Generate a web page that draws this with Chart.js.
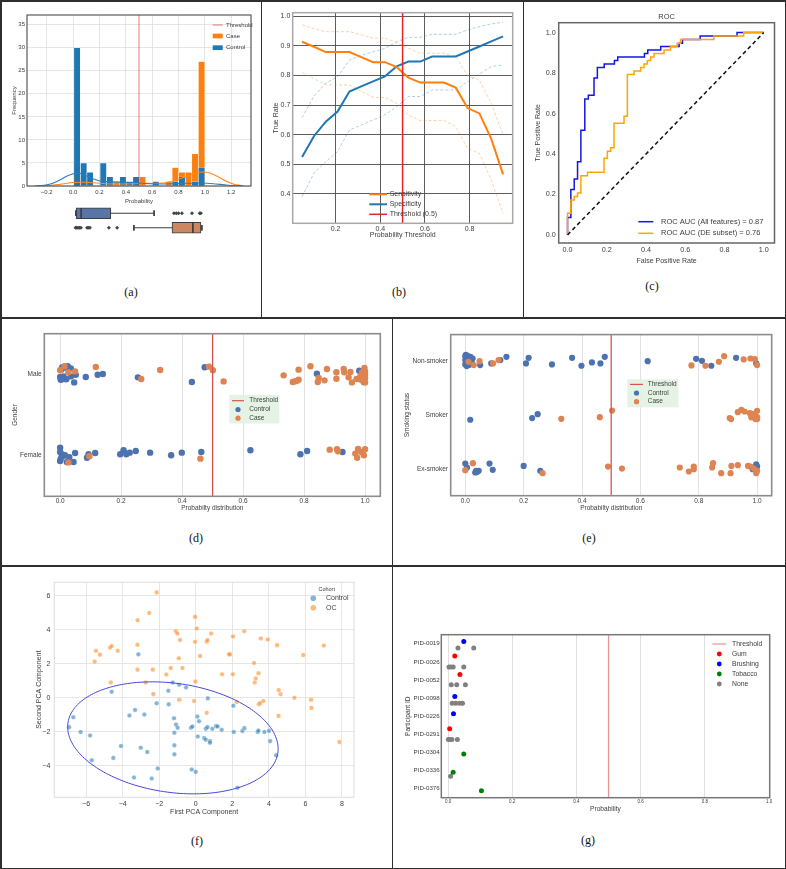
<!DOCTYPE html>
<html>
<head>
<meta charset="utf-8">
<script src="https://cdn.jsdelivr.net/npm/chart.js@4.4.1/dist/chart.umd.min.js"></script>
<style>
  body { margin: 0; background: #fff; }
  #fig { position: relative; width: 786px; height: 869px; background: #fff; overflow: hidden; }
  #fig canvas { position: absolute; }
  .ln { position: absolute; background: #2e2e2e; }
  .lab { position: absolute; font-family: 'Liberation Serif', 'Times New Roman', serif; font-size: 12px; color: #111;
         transform: translate(-50%, -50%); white-space: nowrap; }
</style>
</head>
<body>
<div id="fig">
  <canvas id="cHist"></canvas>
  <canvas id="cBox"></canvas>
  <canvas id="cRate"></canvas>
  <canvas id="cRoc"></canvas>
  <canvas id="cGender"></canvas>
  <canvas id="cSmoke"></canvas>
  <canvas id="cPca"></canvas>
  <canvas id="cPid"></canvas>

  <!-- panel frame lines -->
  <div class="ln" style="left:0;top:0;width:786px;height:1.5px"></div>
  <div class="ln" style="left:0;top:867.5px;width:786px;height:1.5px"></div>
  <div class="ln" style="left:0;top:0;width:1.5px;height:869px"></div>
  <div class="ln" style="left:784.5px;top:0;width:1.5px;height:869px"></div>
  <div class="ln" style="left:0;top:317.3px;width:786px;height:1.5px"></div>
  <div class="ln" style="left:0;top:565.3px;width:786px;height:1.5px"></div>
  <div class="ln" style="left:260.7px;top:0;width:1.5px;height:318px"></div>
  <div class="ln" style="left:522.6px;top:0;width:1.5px;height:318px"></div>
  <div class="ln" style="left:391.6px;top:318px;width:1.5px;height:551px"></div>

  <div class="lab" style="left:131px;top:292px">(a)</div>
  <div class="lab" style="left:399px;top:292px">(b)</div>
  <div class="lab" style="left:652px;top:285.5px">(c)</div>
  <div class="lab" style="left:196px;top:538px">(d)</div>
  <div class="lab" style="left:589px;top:538px">(e)</div>
  <div class="lab" style="left:197px;top:841px">(f)</div>
  <div class="lab" style="left:588px;top:840px">(g)</div>
</div>

<script>
// ---------------- data ----------------

// (a) histogram of predicted probability (20 bins) + kde + box plots
const histBinCenters = [0.030, 0.080, 0.129, 0.179, 0.229, 0.279, 0.328, 0.378, 0.428, 0.478,
                        0.527, 0.577, 0.627, 0.677, 0.726, 0.776, 0.826, 0.876, 0.925, 0.975];
const histControl = [30, 5, 3, 0, 5, 2, 0, 2, 1, 2, 0, 0, 1, 0, 0, 1, 2, 0, 1, 4];
const histCase    = [5, 2, 1, 0, 0, 1, 1, 0, 0, 1, 2, 0, 0, 0, 1, 4, 3, 3, 7, 27];
const kdeControlX = [-0.29, -0.22, -0.16, -0.1, -0.05, 0.0, 0.04, 0.09, 0.15, 0.2, 0.27, 0.35, 0.45,
                     0.55, 0.65, 0.75, 0.85, 0.95, 1.02, 1.08, 1.15, 1.22, 1.29];
const kdeControlY = [0.0, 0.15, 0.55, 1.3, 2.1, 2.65, 2.75, 2.35, 1.55, 1.1, 0.95, 0.85, 0.75,
                     0.55, 0.45, 0.5, 0.6, 0.65, 0.6, 0.45, 0.25, 0.08, 0.0];
const kdeCaseX = [-0.29, -0.2, -0.1, 0.0, 0.08, 0.16, 0.25, 0.35, 0.45, 0.55, 0.65, 0.72, 0.8,
                  0.88, 0.94, 0.99, 1.04, 1.1, 1.16, 1.22, 1.29];
const kdeCaseY = [0.0, 0.1, 0.35, 0.75, 0.8, 0.7, 0.5, 0.45, 0.5, 0.6, 0.6, 0.8, 1.5,
                  2.3, 2.9, 3.05, 2.8, 2.0, 1.1, 0.4, 0.03];
const histXTicks = [-0.2, 0.0, 0.2, 0.4, 0.6, 0.8, 1.0, 1.2];
const histYTicks = [0, 5, 10, 15, 20, 25, 30, 35];
// [whisker low, q1, median, q3, whisker high]
const boxControl = [0.003, 0.005, 0.045, 0.278, 0.619];
const boxCase = [0.46, 0.76, 0.924, 0.987, 0.995];
const fliersControl = [0.775, 0.793, 0.811, 0.838, 0.917, 0.977, 0.987];
const fliersCase = [0.0, 0.01, 0.02, 0.03, 0.043, 0.091, 0.101, 0.114, 0.263, 0.328];

// (b) sensitivity / specificity against probability threshold
const thrX = [0.05, 0.103, 0.156, 0.209, 0.262, 0.315, 0.368, 0.421, 0.474, 0.526,
              0.579, 0.632, 0.685, 0.738, 0.791, 0.844, 0.897, 0.95];
const sensY  = [0.914, 0.897, 0.879, 0.879, 0.879, 0.862, 0.845, 0.845, 0.828, 0.793,
                0.776, 0.776, 0.776, 0.759, 0.690, 0.672, 0.586, 0.466];
const sensHi = [0.971, 0.958, 0.948, 0.948, 0.948, 0.937, 0.926, 0.926, 0.911, 0.892,
                0.875, 0.875, 0.875, 0.864, 0.800, 0.785, 0.706, 0.600];
const sensLo = [0.810, 0.790, 0.768, 0.768, 0.768, 0.747, 0.726, 0.726, 0.706, 0.667,
                0.648, 0.648, 0.648, 0.628, 0.554, 0.537, 0.447, 0.334];
const specY  = [0.525, 0.595, 0.644, 0.678, 0.746, 0.763, 0.780, 0.797, 0.831, 0.847,
                0.847, 0.864, 0.864, 0.864, 0.881, 0.898, 0.915, 0.932];
const specHi = [0.658, 0.730, 0.774, 0.796, 0.852, 0.868, 0.880, 0.892, 0.914, 0.929,
                0.929, 0.939, 0.939, 0.939, 0.954, 0.965, 0.974, 0.980];
const specLo = [0.391, 0.470, 0.509, 0.543, 0.616, 0.633, 0.650, 0.667, 0.695, 0.729,
                0.729, 0.751, 0.751, 0.751, 0.779, 0.805, 0.830, 0.836];
const rateXTicks = [0.2, 0.4, 0.6, 0.8];
const rateYTicks = [0.4, 0.5, 0.6, 0.7, 0.8, 0.9, 1.0];

// (c) ROC curves
const rocAllFpr = [0, 0, 0.017, 0.017, 0.034, 0.034, 0.051, 0.051, 0.068, 0.068, 0.088, 0.088, 0.106, 0.106,
                   0.135, 0.135, 0.152, 0.152, 0.187, 0.187, 0.239, 0.239, 0.256, 0.256, 0.392, 0.392,
                   0.409, 0.409, 0.475, 0.475, 0.569, 0.569, 0.586, 0.586, 0.676, 0.676, 0.864, 0.864, 1.0];
const rocAllTpr = [0, 0.086, 0.086, 0.224, 0.224, 0.276, 0.276, 0.362, 0.362, 0.517, 0.517, 0.672, 0.672, 0.690,
                   0.690, 0.776, 0.776, 0.828, 0.828, 0.845, 0.845, 0.862, 0.862, 0.879, 0.879, 0.897,
                   0.897, 0.914, 0.914, 0.931, 0.931, 0.948, 0.948, 0.966, 0.966, 0.983, 0.983, 1.0, 1.0];
const rocDeFpr = [0, 0, 0.017, 0.017, 0.034, 0.034, 0.051, 0.051, 0.068, 0.068, 0.102, 0.102, 0.186, 0.186,
                  0.203, 0.203, 0.220, 0.220, 0.237, 0.237, 0.288, 0.288, 0.305, 0.305, 0.339, 0.339,
                  0.373, 0.373, 0.390, 0.390, 0.407, 0.407, 0.424, 0.424, 0.441, 0.441, 0.492, 0.492,
                  0.525, 0.525, 0.559, 0.559, 0.576, 0.576, 0.746, 0.746, 0.898, 0.898, 1.0];
const rocDeTpr = [0, 0.107, 0.107, 0.172, 0.172, 0.190, 0.190, 0.207, 0.207, 0.293, 0.293, 0.310, 0.310, 0.379,
                  0.379, 0.414, 0.414, 0.431, 0.431, 0.552, 0.552, 0.586, 0.586, 0.793, 0.793, 0.810,
                  0.810, 0.828, 0.828, 0.845, 0.845, 0.862, 0.862, 0.879, 0.879, 0.897, 0.897, 0.914,
                  0.914, 0.931, 0.931, 0.948, 0.948, 0.966, 0.966, 0.983, 0.983, 1.0, 1.0];
const unitTicks = [0.0, 0.2, 0.4, 0.6, 0.8, 1.0];

// (d) probability by gender (y = category row + jitter)
const genderCats = ['Male', 'Female'];
const gControlX = [0.007, 0.016, 0.025, 0.035, 0.051, 0.0, 0.002, 0.009, 0.011, 0.035, 0.046, 0.084, 0.123, 0.14,
                   0.255, 0.432, 0.474, 0.842, 0.981, 0.996, 0.993, 0.004, 0.02,
                   0.0, 0.0, 0.005, 0.002, 0.0, 0.016, 0.022, 0.044, 0.049, 0.093, 0.088, 0.115, 0.197, 0.208,
                   0.217, 0.228, 0.248, 0.295, 0.364, 0.399, 0.463, 0.624, 0.788, 0.81, 0.926, 0.011, 0.03];
const gControlY = [-0.087, -0.083, -0.099, -0.074, 0.004, 0.033, 0.066, 0.058, 0.025, 0.025, 0.099, 0.033, 0.004, -0.004,
                   0.037, 0.095, -0.087, -0.008, -0.045, 0.095, 0.025, -0.06, 0.06,
                   0.901, 0.955, 0.983, 1.037, 1.066, 0.996, 1.079, 1.079, 0.967, 0.983, 1.025, 0.967, 0.983, 0.934,
                   0.983, 0.963, 0.942, 0.963, 0.996, 0.963, 0.955, 0.934, 0.983, 0.942, 0.955, 1.0, 1.02];
const gCaseX = [0.0, 0.014, 0.027, 0.049, 0.117, 0.266, 0.328, 0.488, 0.501, 0.536, 0.733, 0.763, 0.769, 0.777,
                0.782, 0.782, 0.821, 0.848, 0.845, 0.867, 0.875, 0.906, 0.906, 0.93, 0.932, 0.946, 0.952, 0.957,
                0.972, 0.985, 0.99, 0.998, 1.0, 1.0, 1.0, 0.996, 0.987, 1.0,
                0.027, 0.096, 0.46, 0.884, 0.908, 0.911, 0.968, 0.974, 0.977, 0.988, 0.996, 1.0];
const gCaseY = [-0.05, -0.099, -0.025, -0.037, -0.091, 0.058, -0.054, -0.095, -0.05, 0.087, 0.012, 0.095, 0.087, 0.079,
                0.066, -0.058, -0.099, 0.045, 0.095, 0.074, -0.066, -0.025, 0.054, -0.066, -0.025, 0.037, -0.029, 0.099,
                0.058, 0.017, -0.025, -0.079, -0.037, 0.004, 0.045, 0.087, 0.066, 0.099,
                1.083, 1.008, 1.037, 0.926, 0.921, 0.946, 0.975, 1.025, 0.917, 0.955, 0.996, 0.921];

// (e) probability by smoking status
const smokeCats = ['Non-smoker', 'Smoker', 'Ex-smoker'];
const sControlX = [0.0, 0.002, 0.009, 0.018, 0.025, 0.0, 0.007, 0.0, 0.005, 0.014, 0.023, 0.051, 0.089, 0.12,
                   0.141, 0.208, 0.217, 0.297, 0.366, 0.398, 0.434, 0.463, 0.478, 0.625, 0.791, 0.811, 0.843,
                   0.928, 0.997,
                   0.017, 0.229, 0.248,
                   0.0, 0.006, 0.034, 0.037, 0.046, 0.04, 0.083, 0.094, 0.2, 0.257, 0.985, 0.997, 1.0];
const sControlY = [-0.098, -0.123, -0.098, -0.086, -0.055, -0.025, 0.006, 0.055, 0.086, 0.062, 0.037, 0.068, 0.037, -0.025,
                   -0.086, 0.037, -0.068, 0.055, -0.068, 0.08, 0.018, 0.037, -0.086, -0.006, -0.049, -0.012, 0.08,
                   -0.068, 0.037,
                   1.086, 1.055, 0.982,
                   1.902, 1.975, 2.068, 2.037, 2.037, 2.06, 1.902, 2.018, 1.945, 2.037, 2.006, 1.914, 1.957];
const sCaseX = [0.011, 0.029, 0.049, 0.095, 0.114, 0.775, 0.823, 0.869, 0.887, 0.954, 0.977, 0.992, 1.0,
                0.329, 0.461, 0.503, 0.911, 0.906, 0.934, 0.946, 0.957, 0.975, 0.983, 0.992, 1.0, 1.0, 0.994,
                0.989, 1.0, 0.98,
                0.026, 0.0, 0.265, 0.489, 0.537, 0.735, 0.766, 0.783, 0.783, 0.846, 0.849, 0.877, 0.909,
                0.912, 0.934, 0.969, 0.977, 1.0, 0.997, 0.989];
const sCaseY = [0.006, 0.068, -0.006, 0.037, -0.025, 0.074, 0.08, 0.006, -0.098, -0.037, -0.055, -0.043, 0.068,
                1.068, 1.037, 0.914, 1.074, 1.055, 0.945, 0.902, 0.932, 0.963, 0.982, 1.025, 1.037, 0.92, 1.074,
                0.982, 1.074, 1.04,
                1.895, 2.025, 2.08, 1.957, 1.994, 1.975, 2.049, 1.957, 2.006, 1.975, 1.895, 2.08, 2.08,
                1.945, 1.932, 1.945, 1.957, 2.037, 2.08, 1.994];

// (f) PCA scores
const pcaControlX = [-6.93, -6.70, -6.30, -5.78, -5.69, -4.60, -4.51, -4.09, -3.63, -3.32, -3.14, -3.01, -2.81, -2.65,
                     -3.38, -2.41, -2.14, -2.08, -1.50, -1.48, -1.26, -1.19, -1.08, -0.99, -1.17, -1.17, -1.17,
                     -0.91, -0.53, -0.26, -0.18, -0.22, 0.0, 0.09, 0.18, 0.11, 0.46, 0.55, 0.66, 0.78, 0.78, 0.55,
                     0.64, 0.91, 1.11, 1.20, 1.42, 2.06, 2.08, 2.28, 2.55, 2.66, 3.39, 3.43, 3.76, 4.01, 4.07, 4.40];
const pcaControlY = [-1.73, -1.15, -2.02, -2.22, -3.68, 0.35, -3.54, -2.84, -1.05, -0.72, 2.55, -2.94, -0.99, -3.19,
                     -4.69, -4.75, -0.33, -4.16, 0.41, -0.39, 0.89, -1.21, -1.58, -1.77, -2.06, -2.80, -3.33,
                     0.76, 0.60, -1.77, -1.69, -4.22, -4.36, -1.11, -1.38, -2.28, -2.37, -2.47, -0.04, -2.55, -2.65, -1.83,
                     -1.73, -1.83, -1.67, -1.69, -1.89, -0.47, -2.02, -5.29, -1.96, -1.79, -2.02, -1.93, -2.02, -1.95, -2.55, -3.39];
const pcaOcX = [-2.14, -2.55, -3.18, -0.04, 0.05, -1.09, -1.00, -0.86, -0.04, 0.60, 0.64, 0.84, 2.04, 2.65, 3.56, 3.94,
                4.45, 7.01, 5.88, 1.88, 1.82, 0.24, -0.93, -3.19, -5.46, -5.24, -5.53, -4.69, -4.60, -4.27, -3.19,
                -2.35, -1.37, -0.73, -1.61, 1.44, 2.03, 3.19, 3.43, 3.28, 3.23, -0.02, -4.65, -2.74, -2.32, -0.91,
                -0.09, 0.60, 2.24, 3.45, 3.52, 3.70, 4.54, 4.64, 5.40, 6.31, 6.33, 4.53, 7.86];
const pcaOcY = [6.19, 4.98, 4.55, 4.75, 4.07, 3.91, 3.77, 3.39, 3.29, 3.29, 3.39, 3.77, 3.60, 3.91, 3.48, 3.42,
                3.09, 3.07, 2.51, 2.55, 2.55, 2.45, 2.32, 3.11, 2.76, 2.53, 2.12, 2.94, 3.04, 2.76, 1.65,
                1.65, 1.75, 1.75, 1.36, 1.38, 1.38, 2.04, 1.44, 1.13, 0.89, 0.95, 0.89, 0.89, 0.21, -0.12,
                -0.19, -0.89, -0.25, -0.39, -0.31, -0.19, 0.45, 0.21, 0.0, -0.12, -0.60, -1.07, -2.61];
// confidence ellipse of the controls: centre x, centre y, semi-axis a, semi-axis b, angle (deg)
const pcaEllipse = [-1.25, -2.36, 5.81, 3.2, -9.2];
const pcaXTicks = [-6, -4, -2, 0, 2, 4, 6, 8];
const pcaYTicks = [-4, -2, 0, 2, 4, 6];

// (g) per participant probabilities by habit (y = row + dodge/jitter)
const pids = ['PID-0019', 'PID-0026', 'PID-0052', 'PID-0098', 'PID-0226', 'PID-0291', 'PID-0304', 'PID-0336', 'PID-0376'];
const gumX = [0.021, 0.037, 0.005];
const gumY = [0.67, 1.70, 4.69];
const brushX = [0.049, 0.021, 0.017];
const brushY = [-0.13, 2.91, 3.87];
const tobaccoX = [0.049, 0.016, 0.104];
const tobaccoY = [6.09, 7.09, 8.11];
const noneX = [0.031, 0.080, 0.003, 0.009, 0.016, 0.049, 0.010, 0.027, 0.054, 0.013, 0.024, 0.036, 0.045,
               0.001, 0.006, 0.012, 0.029, 0.008];
const noneY = [0.24, 0.24, 1.28, 1.28, 1.28, 1.28, 2.26, 2.26, 2.26, 3.28, 3.28, 3.28, 3.28,
               5.28, 5.28, 5.28, 5.28, 7.31];

const THRESHOLD = 0.5;

// ---------------- helpers ----------------
const TXT = '#3c3c3c';
const FONT = "'Liberation Sans', Arial, Helvetica, sans-serif";
Chart.defaults.font.family = FONT;
Chart.defaults.color = TXT;
Chart.defaults.animation = false;
Chart.defaults.events = [];
Chart.defaults.responsive = false;
Chart.defaults.maintainAspectRatio = false;
Chart.defaults.plugins.legend.display = false;
Chart.defaults.plugins.tooltip.enabled = false;

function pairs(xs, ys) {
    return xs.map(function (x, i) { return { x: x, y: ys[i] }; });
}

const f1 = function (v) { return (v < 0 ? '\u2212' : '') + Math.abs(v).toFixed(1); };
const fInt = function (v) { return (v < 0 ? '\u2212' : '') + Math.abs(v).toFixed(0); };

// place a canvas so that its chart area lands on the given plot rectangle
function mount(id, L, T, R, B, padL, padT, padR, padB) {
    const cv = document.getElementById(id);
    const x0 = Math.floor(L - padL), y0 = Math.floor(T - padT);
    const x1 = Math.ceil(R + padR), y1 = Math.ceil(B + padB);
    cv.width = x1 - x0; cv.height = y1 - y0;
    cv.style.left = x0 + 'px'; cv.style.top = y0 + 'px';
    cv.style.width = (x1 - x0) + 'px'; cv.style.height = (y1 - y0) + 'px';
    return { ctx: cv.getContext('2d'), left: L - x0, top: T - y0, right: x1 - R, bottom: y1 - B };
}

function axis(o) {
    return {
        type: 'linear', min: o.min, max: o.max, reverse: !!o.reverse, offset: false,
        afterFit: function (s) { if (s.isHorizontal()) { s.height = o.size; } else { s.width = o.size; } },
        afterBuildTicks: function (s) { s.ticks = o.ticks.map(function (v) { return { value: v }; }); },
        ticks: { autoSkip: false, maxRotation: 0, minRotation: 0, padding: o.pad, color: TXT,
                 font: { size: o.font }, callback: o.fmt },
        grid: { display: !!o.grid, offset: false, color: o.grid || '#ddd', lineWidth: o.gridW || 0.8, drawTicks: false },
        border: { display: false },
        title: { display: !!o.title, text: o.title || '', padding: 0, color: TXT, font: { size: o.titleFont || o.font } }
    };
}

function vline(x, y0, y1, color, w) {
    return { type: 'line', data: [{ x: x, y: y0 }, { x: x, y: y1 }], borderColor: color, borderWidth: w,
             pointRadius: 0, tension: 0 };
}

// outline of the plot area (matplotlib spines)
const framePlugin = {
    id: 'frame',
    afterDatasetsDraw: function (chart, args, o) {
        if (!o || !o.color) return;
        const a = chart.chartArea, ctx = chart.ctx;
        ctx.save();
        ctx.strokeStyle = o.color; ctx.lineWidth = o.width;
        ctx.strokeRect(a.left, a.top, a.right - a.left, a.bottom - a.top);
        ctx.restore();
    }
};

// legend drawn inside the plot area, positions in figure pixels
const boxLegend = {
    id: 'boxLegend',
    afterDraw: function (chart, args, o) {
        if (!o || !o.items) return;
        const ctx = chart.ctx, ox = chart.canvas.offsetLeft, oy = chart.canvas.offsetTop;
        ctx.save();
        if (o.bg) { ctx.fillStyle = o.bg[4]; ctx.fillRect(o.bg[0] - ox, o.bg[1] - oy, o.bg[2], o.bg[3]); }
        ctx.textBaseline = 'middle'; ctx.textAlign = 'left';
        ctx.font = o.size + 'px ' + FONT;
        o.items.forEach(function (it, i) {
            const y = o.rows[i] - oy, x0 = o.mark[0] - ox, x1 = o.mark[1] - ox;
            if (it.kind === 'line') {
                ctx.strokeStyle = it.color; ctx.lineWidth = it.w;
                ctx.beginPath(); ctx.moveTo(x0, y); ctx.lineTo(x1, y); ctx.stroke();
            } else if (it.kind === 'rect') {
                ctx.fillStyle = it.color; ctx.fillRect(x0, y - it.h / 2, x1 - x0, it.h);
            } else {
                ctx.fillStyle = it.color;
                ctx.beginPath(); ctx.arc((x0 + x1) / 2, y, it.r, 0, 2 * Math.PI); ctx.fill();
            }
            ctx.fillStyle = TXT;
            ctx.fillText(it.text, o.textX - ox, y);
        });
        if (o.title) {
            ctx.textAlign = 'center'; ctx.font = o.title[3] + 'px ' + FONT; ctx.fillStyle = TXT;
            ctx.fillText(o.title[0], o.title[1] - ox, o.title[2] - oy);
        }
        ctx.restore();
    }
};
Chart.register(framePlugin, boxLegend);

// ---------------- (a) histogram ----------------
const HX = [-0.35, 1.35], HY = [0, 37.1];
let m = mount('cHist', 27, 15, 251, 186, 15.6, 6, 6, 18.6);
new Chart(m.ctx, {
    type: 'scatter',
    data: {
        datasets: [
            vline(THRESHOLD, HY[0], HY[1], 'rgba(214,39,40,0.6)', 1),
            { type: 'line', data: pairs(kdeControlX, kdeControlY), borderColor: '#2a7fc0', borderWidth: 1.1,
              pointRadius: 0, cubicInterpolationMode: 'monotone' },
            { type: 'line', data: pairs(kdeCaseX, kdeCaseY), borderColor: '#ff8a1f', borderWidth: 1.1,
              pointRadius: 0, cubicInterpolationMode: 'monotone' },
            { type: 'bar', data: pairs(histBinCenters, histControl.map(function (v) { return v || null; })),
              backgroundColor: '#1f77b4', borderColor: 'rgba(255,255,255,0.55)', borderWidth: 0.6,
              grouped: false, barPercentage: 1, categoryPercentage: 1 },
            { type: 'bar', data: pairs(histBinCenters, histCase.map(function (v) { return v || null; })),
              backgroundColor: '#ff7f0e', borderColor: 'rgba(255,255,255,0.55)', borderWidth: 0.6,
              grouped: false, barPercentage: 1, categoryPercentage: 1 }
        ]
    },
    options: {
        layout: { padding: { left: 0, bottom: 0, top: m.top, right: m.right } },
        scales: {
            x: axis({ min: HX[0], max: HX[1], ticks: histXTicks, fmt: f1, size: m.bottom, pad: 3, font: 6,
                      grid: '#dedede', title: 'Probability' }),
            y: axis({ min: HY[0], max: HY[1], ticks: histYTicks, fmt: fInt, size: m.left, pad: 2, font: 6,
                      grid: '#dedede', title: 'Frequency' })
        },
        plugins: {
            frame: { color: '#5a5a5a', width: 1.2 },
            boxLegend: { size: 6, mark: [212.7, 222.7], textX: 226, rows: [25, 36, 47.7],
                         items: [{ kind: 'line', color: 'rgba(214,39,40,0.6)', w: 1, text: 'Threshold' },
                                 { kind: 'rect', color: '#ff7f0e', h: 4.7, text: 'Case' },
                                 { kind: 'rect', color: '#1f77b4', h: 4.7, text: 'Control' }] }
        }
    }
});

// box plots under the histogram, same x range
function boxDatasets(stats, row, fill, fliers) {
    const lo = stats[0], q1 = stats[1], med = stats[2], q3 = stats[3], hi = stats[4];
    const edge = '#3d3d3d';
    function seg(pts) { return { type: 'line', data: pts, borderColor: edge, borderWidth: 1, pointRadius: 0 }; }
    return [
        seg([{ x: med, y: row - 0.36 }, { x: med, y: row + 0.36 }]),
        seg([{ x: lo, y: row }, { x: q1, y: row }]),
        seg([{ x: q3, y: row }, { x: hi, y: row }]),
        seg([{ x: lo, y: row - 0.19 }, { x: lo, y: row + 0.19 }]),
        seg([{ x: hi, y: row - 0.19 }, { x: hi, y: row + 0.19 }]),
        { type: 'scatter', data: fliers.map(function (v) { return { x: v, y: row }; }), pointStyle: 'rectRot',
          pointRadius: 2, backgroundColor: '#454545', borderWidth: 0 },
        { type: 'bar', indexAxis: 'y', data: [{ y: row, x: [q1, q3] }], backgroundColor: fill, borderColor: edge,
          borderWidth: 1, borderSkipped: false, barThickness: 11, grouped: false }
    ];
}
m = mount('cBox', 27, 205, 251, 236, 0, 3, 0, 3);
new Chart(m.ctx, {
    type: 'scatter',
    data: { datasets: boxDatasets(boxControl, 0, '#5875a6', fliersControl).concat(boxDatasets(boxCase, 1, '#cc8761', fliersCase)) },
    options: {
        layout: { padding: { left: m.left, top: m.top, right: m.right, bottom: m.bottom } },
        scales: {
            x: { type: 'linear', display: false, offset: false, min: HX[0], max: HX[1] },
            y: { type: 'linear', display: false, offset: false, min: -0.5, max: 1.5, reverse: true }
        }
    }
});

// ---------------- (b) sensitivity / specificity ----------------
const RY = [0.301, 1.012];
m = mount('cRate', 292.7, 12.7, 512.7, 223.3, 19.9, 6, 6, 15.6);
function band(ys, color) {
    return { type: 'line', data: pairs(thrX, ys), borderColor: color, borderWidth: 0.8, borderDash: [3, 2],
             pointRadius: 0, tension: 0 };
}
new Chart(m.ctx, {
    type: 'scatter',
    data: {
        datasets: [
            vline(THRESHOLD, RY[0], RY[1], '#e3242b', 1.5),
            { type: 'line', data: pairs(thrX, sensY), borderColor: '#ff7f0e', borderWidth: 2, pointRadius: 0, tension: 0 },
            { type: 'line', data: pairs(thrX, specY), borderColor: '#1f77b4', borderWidth: 2, pointRadius: 0, tension: 0 },
            band(sensHi, 'rgba(255,127,14,0.45)'),
            band(sensLo, 'rgba(255,127,14,0.45)'),
            band(specHi, 'rgba(31,119,180,0.45)'),
            band(specLo, 'rgba(31,119,180,0.45)')
        ]
    },
    options: {
        layout: { padding: { left: 0, bottom: 0, top: m.top, right: m.right } },
        scales: {
            x: axis({ min: 0.008, max: 0.993, ticks: rateXTicks, fmt: f1, size: m.bottom, pad: 1.5, font: 7,
                      grid: '#4a4a4a', gridW: 0.9, title: 'Probability Threshold' }),
            y: axis({ min: RY[0], max: RY[1], ticks: rateYTicks, fmt: f1, size: m.left, pad: 2.4, font: 7,
                      grid: '#4a4a4a', gridW: 0.9, title: 'True Rate' })
        },
        plugins: {
            frame: { color: '#a8a8a8', width: 1.5 },
            boxLegend: { size: 7, mark: [369.3, 387], textX: 389.7, rows: [194.3, 204.3, 214.3],
                         items: [{ kind: 'line', color: '#ff7f0e', w: 2, text: 'Sensitivity' },
                                 { kind: 'line', color: '#1f77b4', w: 2, text: 'Specificity' },
                                 { kind: 'line', color: '#e3242b', w: 1.5, text: 'Threshold (0.5)' }] }
        }
    }
});

// ---------------- (c) ROC ----------------
m = mount('cRoc', 558.7, 22.7, 774.5, 243, 23.9, 14.2, 6, 21.2);
new Chart(m.ctx, {
    type: 'scatter',
    data: {
        datasets: [
            { type: 'line', data: [{ x: 0, y: 0 }, { x: 1, y: 1 }], borderColor: '#111', borderWidth: 1.5,
              borderDash: [4, 3], pointRadius: 0 },
            { type: 'line', data: pairs(rocDeFpr, rocDeTpr), borderColor: '#ffa500', borderWidth: 1.5, pointRadius: 0, tension: 0 },
            { type: 'line', data: pairs(rocAllFpr, rocAllTpr), borderColor: '#1515e6', borderWidth: 1.5, pointRadius: 0, tension: 0 }
        ]
    },
    options: {
        layout: { padding: { left: 0, bottom: 0, top: m.top - 10.2, right: m.right } },
        scales: {
            x: axis({ min: -0.045, max: 1.055, ticks: unitTicks, fmt: f1, size: m.bottom, pad: 2.8, font: 7.2,
                      titleFont: 7, title: 'False Positive Rate' }),
            y: axis({ min: -0.04, max: 1.049, ticks: unitTicks, fmt: f1, size: m.left, pad: 3, font: 7.2,
                      titleFont: 7, title: 'True Positive Rate' })
        },
        plugins: {
            title: { display: true, fullSize: false, text: 'ROC', color: TXT, font: { size: 7.5, weight: 'normal' },
                     padding: { top: 0, bottom: 1.2 } },
            frame: { color: '#666', width: 1.5 },
            boxLegend: { size: 7.5, mark: [638.3, 653.3], textX: 661, rows: [221.7, 233.3],
                         items: [{ kind: 'line', color: '#1515e6', w: 1.5, text: 'ROC AUC (All features) = 0.87' },
                                 { kind: 'line', color: '#ffa500', w: 1.5, text: 'ROC AUC (DE subset) = 0.76' }] }
        }
    }
});

// ---------------- (d) gender strip plot ----------------
const STRIP_BLUE = '#4c72b0', STRIP_ORANGE = '#dd8452', THR_RED = '#d8524f';
m = mount('cGender', 44.3, 333.7, 380.3, 496.3, 32.5, 6, 6, 15.6);
new Chart(m.ctx, {
    type: 'scatter',
    data: {
        datasets: [
            vline(THRESHOLD, -0.5, 1.5, THR_RED, 1.3),
            { data: pairs(gCaseX, gCaseY), backgroundColor: STRIP_ORANGE, pointRadius: 3.2, borderWidth: 0 },
            { data: pairs(gControlX, gControlY), backgroundColor: STRIP_BLUE, pointRadius: 3.2, borderWidth: 0 }
        ]
    },
    options: {
        layout: { padding: { left: 0, bottom: 0, top: m.top, right: m.right } },
        scales: {
            x: axis({ min: -0.052, max: 1.05, ticks: unitTicks, fmt: f1, size: m.bottom, pad: 1, font: 6.5,
                      grid: '#e2e2e2', gridW: 1, title: 'Probabilty distribution' }),
            y: axis({ min: -0.5, max: 1.5, reverse: true, ticks: [0, 1], size: m.left, pad: 2.6, font: 6.5,
                      fmt: function (v) { return genderCats[v]; }, title: 'Gender' })
        },
        plugins: {
            frame: { color: '#8c8c8c', width: 1.6 },
            boxLegend: { size: 6.5, mark: [232, 244], textX: 249.3, rows: [400.7, 409.5, 418.2],
                         bg: [229.3, 394.8, 50, 28.7, 'rgba(226,242,226,0.92)'],
                         items: [{ kind: 'line', color: THR_RED, w: 1.2, text: 'Threshold' },
                                 { kind: 'dot', color: STRIP_BLUE, r: 2.6, text: 'Control' },
                                 { kind: 'dot', color: STRIP_ORANGE, r: 2.6, text: 'Case' }] }
        }
    }
});

// ---------------- (e) smoking strip plot ----------------
m = mount('cSmoke', 450.7, 334, 771.7, 495.7, 47.6, 6, 6, 16.2);
new Chart(m.ctx, {
    type: 'scatter',
    data: {
        datasets: [
            vline(THRESHOLD, -0.5, 2.5, THR_RED, 1.3),
            { data: pairs(sCaseX, sCaseY), backgroundColor: STRIP_ORANGE, pointRadius: 3.1, borderWidth: 0 },
            { data: pairs(sControlX, sControlY), backgroundColor: STRIP_BLUE, pointRadius: 3.1, borderWidth: 0 }
        ]
    },
    options: {
        layout: { padding: { left: 0, bottom: 0, top: m.top, right: m.right } },
        scales: {
            x: axis({ min: -0.05, max: 1.05, ticks: unitTicks, fmt: f1, size: m.bottom, pad: 1.2, font: 6.5,
                      grid: '#e2e2e2', gridW: 1, title: 'Probabilty distribution' }),
            y: axis({ min: -0.5, max: 2.5, reverse: true, ticks: [0, 1, 2], size: m.left, pad: 2.7, font: 6.5,
                      fmt: function (v) { return smokeCats[v]; }, title: 'Smoking status' })
        },
        plugins: {
            frame: { color: '#8c8c8c', width: 1.6 },
            boxLegend: { size: 6.5, mark: [630, 643], textX: 647.7, rows: [384.4, 393, 401.7],
                         bg: [627.3, 379.3, 51, 28, 'rgba(226,242,226,0.92)'],
                         items: [{ kind: 'line', color: THR_RED, w: 1.2, text: 'Threshold' },
                                 { kind: 'dot', color: STRIP_BLUE, r: 2.6, text: 'Control' },
                                 { kind: 'dot', color: STRIP_ORANGE, r: 2.6, text: 'Case' }] }
        }
    }
});

// ---------------- (f) PCA scatter ----------------
const ellipsePlugin = {
    id: 'pcaEllipse',
    afterDatasetsDraw: function (chart) {
        const cx = pcaEllipse[0], cy = pcaEllipse[1], a = pcaEllipse[2], b = pcaEllipse[3];
        const t = pcaEllipse[4] * Math.PI / 180;
        const xs = chart.scales.x, ys = chart.scales.y, ctx = chart.ctx;
        ctx.save();
        ctx.beginPath();
        for (let i = 0; i <= 200; i++) {
            const u = i / 200 * 2 * Math.PI;
            const x = cx + a * Math.cos(t) * Math.cos(u) - b * Math.sin(t) * Math.sin(u);
            const y = cy + a * Math.sin(t) * Math.cos(u) + b * Math.cos(t) * Math.sin(u);
            const px = xs.getPixelForValue(x), py = ys.getPixelForValue(y);
            if (i === 0) { ctx.moveTo(px, py); } else { ctx.lineTo(px, py); }
        }
        ctx.strokeStyle = '#4646dc';
        ctx.lineWidth = 1;
        ctx.stroke();
        ctx.restore();
    }
};
m = mount('cPca', 54.3, 580.7, 354, 797.3, 19.2, 6, 6, 17.9);
new Chart(m.ctx, {
    type: 'scatter',
    data: {
        datasets: [
            { data: pairs(pcaOcX, pcaOcY), backgroundColor: 'rgba(255,127,14,0.55)', borderColor: 'rgba(255,255,255,0.8)',
              borderWidth: 0.4, pointRadius: 2.3 },
            { data: pairs(pcaControlX, pcaControlY), backgroundColor: 'rgba(31,119,180,0.55)', borderColor: 'rgba(255,255,255,0.8)',
              borderWidth: 0.4, pointRadius: 2.3 }
        ]
    },
    options: {
        layout: { padding: { left: 0, bottom: 0, top: m.top, right: m.right } },
        scales: {
            x: axis({ min: -7.74, max: 8.66, ticks: pcaXTicks, fmt: fInt, size: m.bottom, pad: 2.2, font: 7,
                      grid: '#e6e6e6', gridW: 1, title: 'First PCA Component' }),
            y: axis({ min: -5.855, max: 6.79, ticks: pcaYTicks, fmt: fInt, size: m.left, pad: 4, font: 7,
                      grid: '#e6e6e6', gridW: 1, title: 'Second PCA Component' })
        },
        plugins: {
            frame: { color: '#dcdcdc', width: 1 },
            boxLegend: { size: 7, mark: [310, 316.6], textX: 326, rows: [598.3, 607.7],
                         title: ['Cohort', 326.7, 589.3, 5.5],
                         items: [{ kind: 'dot', color: 'rgba(31,119,180,0.55)', r: 2.8, text: 'Control' },
                                 { kind: 'dot', color: 'rgba(255,127,14,0.55)', r: 2.8, text: 'OC' }] }
        }
    },
    plugins: [ellipsePlugin]
});

// ---------------- (g) participant probabilities ----------------
m = mount('cPid', 441.3, 634.7, 769.7, 797.7, 37.2, 6, 6, 14.5);
function dots(xs, ys, color) {
    return { data: pairs(xs, ys), backgroundColor: color, pointRadius: 2.5, borderWidth: 0 };
}
new Chart(m.ctx, {
    type: 'scatter',
    data: {
        datasets: [
            vline(THRESHOLD, -0.5, 8.5, 'rgba(214,39,40,0.5)', 1.3),
            dots(gumX, gumY, '#ff0000'),
            dots(brushX, brushY, '#0000ff'),
            dots(tobaccoX, tobaccoY, '#008000'),
            dots(noneX, noneY, '#808080')
        ]
    },
    options: {
        layout: { padding: { left: 0, bottom: 0, top: m.top, right: m.right } },
        scales: {
            x: axis({ min: -0.021, max: 1.002, ticks: unitTicks, fmt: f1, size: m.bottom, pad: 0.9, font: 4.5,
                      titleFont: 6.6, grid: '#e0e0e0', gridW: 1, title: 'Probability' }),
            y: axis({ min: -0.5, max: 8.5, reverse: true, ticks: [0, 1, 2, 3, 4, 5, 6, 7, 8], size: m.left, pad: 1.6,
                      font: 6.2, titleFont: 6.6, fmt: function (v) { return pids[v]; }, title: 'Participant ID' })
        },
        plugins: {
            frame: { color: '#777', width: 1.5 },
            boxLegend: { size: 6.8, mark: [712.3, 726.3], textX: 732, rows: [644, 654, 664, 674, 684],
                         items: [{ kind: 'line', color: 'rgba(214,39,40,0.3)', w: 2, text: 'Threshold' },
                                 { kind: 'dot', color: '#ff0000', r: 2.4, text: 'Gum' },
                                 { kind: 'dot', color: '#0000ff', r: 2.4, text: 'Brushing' },
                                 { kind: 'dot', color: '#008000', r: 2.4, text: 'Tobacco' },
                                 { kind: 'dot', color: '#808080', r: 2.4, text: 'None' }] }
        }
    }
});
</script>
</body>
</html>
